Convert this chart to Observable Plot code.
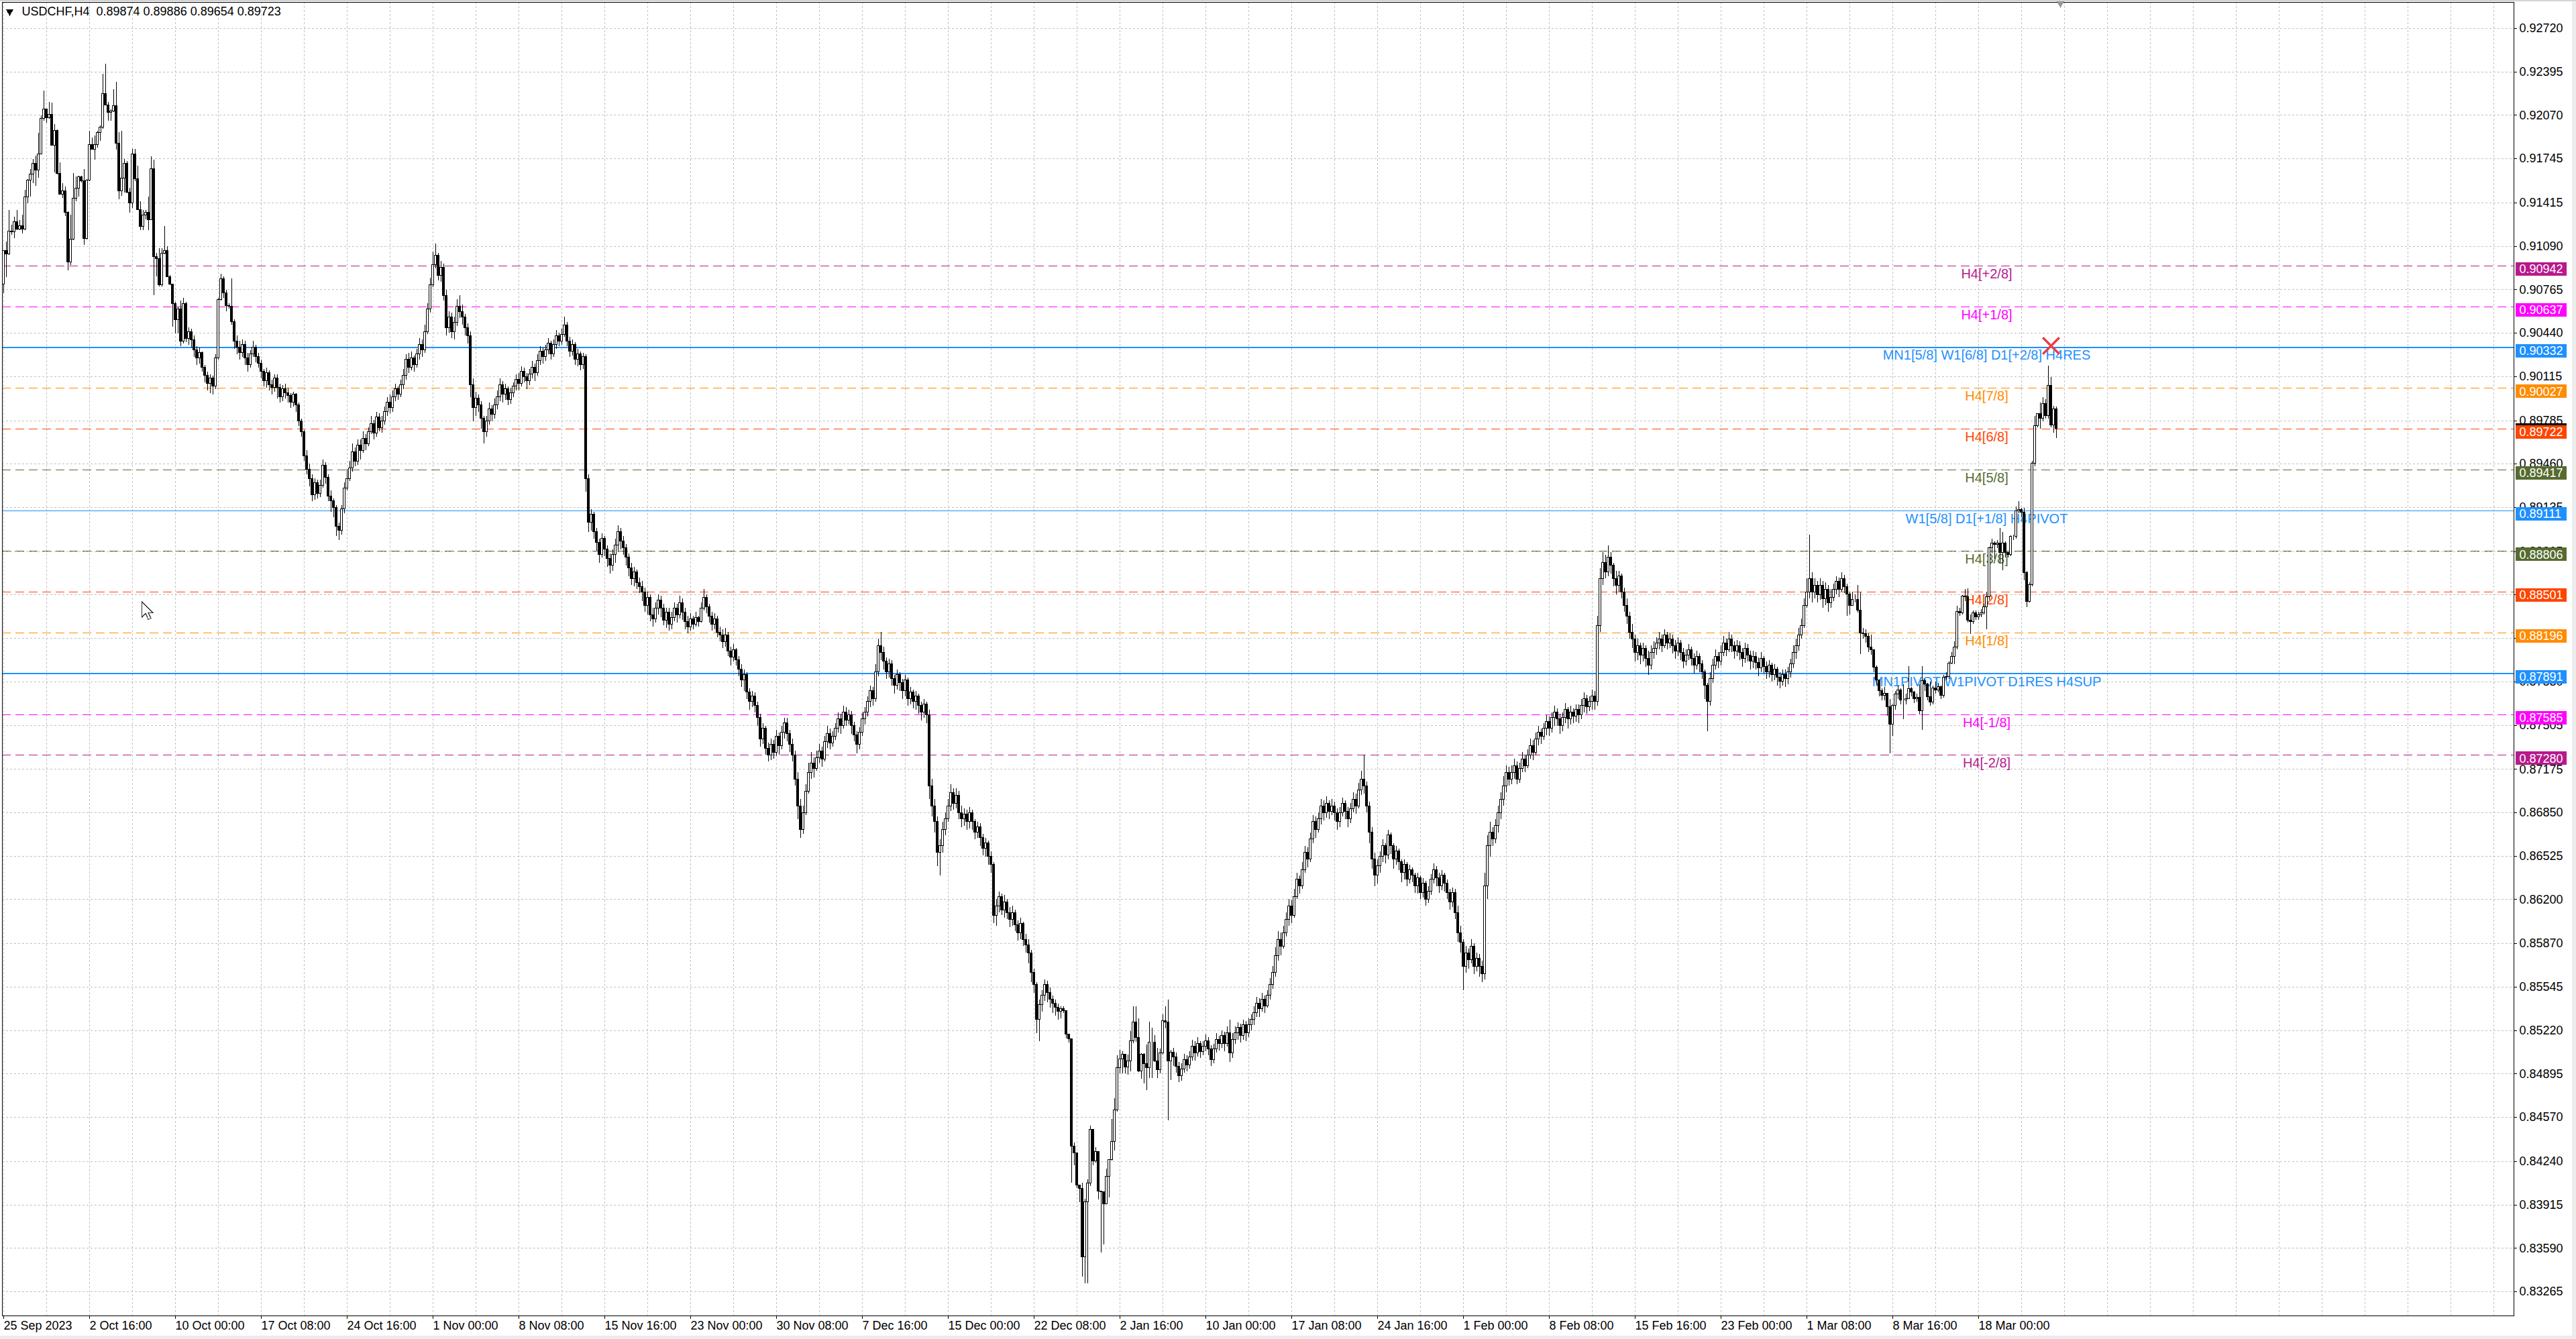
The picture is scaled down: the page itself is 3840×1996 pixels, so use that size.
<!DOCTYPE html>
<html><head><meta charset="utf-8">
<script src="https://cdn.jsdelivr.net/npm/d3@7"></script>
<script src="https://cdn.jsdelivr.net/npm/@observablehq/plot@0.6"></script>
<style>
html,body{margin:0;padding:0;background:#fff;}
#chart{position:relative;width:3840px;height:1996px;overflow:hidden;}
#chart::after{content:"";position:absolute;left:0;top:0;right:0;bottom:0;pointer-events:none;box-shadow:inset 0 2px 0 #d4d4d4, inset -6px 0 0 #ececec, inset 0 -5px 0 #ececec;}
</style></head><body><div id="chart"></div>
<script>
const symbolTitle = "USDCHF,H4  0.89874 0.89886 0.89654 0.89723";
const timeLabels = ["25 Sep 2023","2 Oct 16:00","10 Oct 00:00","17 Oct 08:00","24 Oct 16:00","1 Nov 00:00","8 Nov 08:00","15 Nov 16:00","23 Nov 00:00","30 Nov 08:00","7 Dec 16:00","15 Dec 00:00","22 Dec 08:00","2 Jan 16:00","10 Jan 00:00","17 Jan 08:00","24 Jan 16:00","1 Feb 00:00","8 Feb 08:00","15 Feb 16:00","23 Feb 00:00","1 Mar 08:00","8 Mar 16:00","18 Mar 00:00"];
const priceTicks = [0.92720,0.92395,0.92070,0.91745,0.91415,0.91090,0.90765,0.90440,0.90115,0.89785,0.89460,0.89135,0.88805,0.88480,0.88155,0.87830,0.87505,0.87175,0.86850,0.86525,0.86200,0.85870,0.85545,0.85220,0.84895,0.84570,0.84240,0.83915,0.83590,0.83265];

// H4 bars (25 Sep 2023 08:00 .. 22 Mar 2024 20:00), prices in 1e-5 units
const firstOpen = 90805;
const closes = [
91056,91031,91202,91195,91269,91215,91240,91215,91458,91583,91629,91709,91659,91779,92044,92116,92049,92077,91846,91955,91634,91478,91503,91341,90972,91140,91449,91520,91608,91578,91148,91583,91851,91813,91851,91940,91977,92228,92147,92090,92102,92141,91860,91500,91600,91709,91491,91411,91779,91592,91362,91237,91321,91344,91287,91670,91009,90994,90797,91034,91053,90860,90805,90659,90537,90621,
90380,90660,90400,90450,90390,90310,90250,90290,90180,90120,90060,90100,90040,90250,90688,90847,90738,90646,90637,90521,90380,90330,
90290,90350,90250,90200,90280,90330,90260,90210,90150,90080,90140,90050,90030,90100,90030,89960,90020,89990,89970,89920,89980,89900,89780,89700,89520,89420,89350,89230,89320,89240,
89300,89450,89360,89220,89180,89130,88990,88960,89120,89280,89350,89430,89550,89480,89600,89560,89650,89610,89700,89760,89690,89810,89730,89780,89850,89920,89880,89960,90020,89980,
90050,90120,90240,90180,90250,90200,90280,90350,90310,90450,90620,90800,90950,91020,90870,90930,90720,90480,90560,90450,90520,90640,90600,90560,90480,90420,90050,89880,89950,89900,
89800,89700,89780,89870,89830,89900,89960,90050,89980,90020,89940,89990,90040,90090,90060,90150,90110,90080,90130,90180,90140,90230,90300,90260,90310,90360,90280,90350,90420,90380,
90430,90500,90380,90300,90350,90240,90280,90200,90260,89350,89020,89080,88950,88870,88780,88900,88820,88750,88700,88780,88850,88950,88880,88830,88760,88680,88600,88650,88570,88540,
88500,88400,88460,88330,88300,88380,88440,88380,88290,88350,88260,88310,88380,88330,88420,88350,88280,88240,88300,88260,88310,88280,88380,88460,88390,88320,88260,88300,88200,88180,
88130,88180,88060,88010,88070,87990,87920,87840,87880,87750,87680,87720,87650,87560,87400,87480,87330,87280,87360,87300,87420,87350,87450,87520,87440,87360,87280,87100,86900,86720,
86850,87010,87150,87220,87180,87260,87310,87250,87380,87440,87370,87420,87480,87550,87500,87600,87540,87580,87500,87430,87360,87450,87550,87600,87680,87760,87700,87900,88100,88050,
87980,87900,87960,87850,87800,87880,87820,87760,87840,87700,87750,87680,87720,87650,87600,87660,87580,87050,86900,86780,86550,86600,86720,86800,86900,87000,86920,86980,86850,86800,
86840,86780,86850,86780,86700,86740,86660,86580,86620,86520,86460,86080,86150,86220,86120,86180,86100,86050,86100,86010,85950,86020,85900,85860,85800,85650,85560,85300,85410,85480,
85560,85500,85450,85420,85390,85360,85380,85366,85190,85156,84353,84303,84060,84035,83524,83935,84077,84478,84244,84311,84018,84010,83918,84127,
84252,84386,84621,84939,85006,85039,84947,84989,85140,85282,85165,84914,85039,84972,84939,85131,85131,84989,84922,85048,85290,85282,84989,85056,
85020,84950,84880,84930,85000,84960,85020,85100,85050,85120,85060,85100,85140,85080,85000,85080,85150,85120,85180,85120,85200,85050,85150,85200,85240,85180,85260,85200,85260,85300,
85350,85420,85380,85450,85400,85480,85560,85650,85780,85900,85850,85950,86050,86150,86080,86220,86350,86300,86420,86550,86500,86650,86780,86720,86800,86900,86850,86920,86860,86900,
86850,86780,86850,86920,86860,86800,86880,86950,86900,87020,87100,87050,86900,86700,86500,86380,86450,86520,86600,86530,86680,86600,86500,86560,86480,86400,86460,86350,86420,86380,
86300,86360,86250,86320,86200,86260,86350,86420,86360,86300,86380,86320,86250,86180,86250,86100,85950,85880,85700,85800,85750,85850,85700,85760,85700,85640,86300,86600,86700,86650,
86750,86850,86950,87050,87150,87100,87150,87200,87100,87180,87250,87200,87280,87350,87300,87400,87450,87420,87480,87530,87480,87560,87600,87550,87500,87560,87620,87550,87600,87570,
87620,87580,87650,87700,87640,87680,87720,87680,88250,88600,88720,88650,88760,88700,88600,88550,88620,88500,88400,88320,88200,88150,88050,88100,88030,88080,88000,87950,88050,88080,
88120,88150,88100,88180,88120,88150,88100,88060,88120,88050,87980,88030,88070,88000,87950,88020,87960,87900,87800,87680,87850,87950,88020,87980,88050,88120,88070,88150,88100,88060,
88100,88050,88000,88080,88030,87980,88020,87970,87930,88000,87940,87900,87950,87880,87920,87860,87830,87880,87850,87900,87960,88050,88100,88180,88250,88400,88500,88600,88500,88550,
88480,88550,88450,88520,88420,88460,88520,88580,88520,88600,88540,88487,88400,88446,88446,88362,88195,88186,88170,88086,88069,87935,87843,87759,87726,87740,87642,87508,87651,87734,
87768,87692,87692,87700,87776,87751,87701,87710,87609,87835,87810,87717,87676,87784,87768,87793,87726,87860,87868,87969,88019,88086,88354,88342,88471,88462,88287,88278,88345,88312,
88329,88345,88387,88462,88831,88864,88856,88864,88797,88864,88797,88780,88914,88914,89107,89115,89099,88646,88429,88554,89466,89743,89835,89800,89910,89818,90044,89751,89868,89723];
const highs = [
91056,91123,91357,91249,91307,91357,91282,91324,91508,91592,91667,91742,91767,91935,92069,92253,92111,92169,92161,92002,91960,91717,91558,91533,91349,91324,91634,91608,91617,91617,91667,91592,91952,91901,91918,91952,91993,92378,92454,92169,92111,92261,92320,91943,91952,91742,91726,91525,91818,91818,91692,91424,91357,91357,91458,91759,91734,91039,91073,91073,91240,91090,90872,90805,90671,90638,
90680,90700,90670,90480,90470,90420,90340,90330,90300,90200,90150,90130,90120,90280,90700,90880,90860,90760,90660,90847,90540,90420,
90380,90390,90380,90290,90310,90380,90350,90290,90240,90170,90180,90160,90090,90130,90130,90060,90050,90060,90030,89990,90000,89990,89920,89800,89710,89560,89460,89380,89350,89340,
89340,89490,89470,89380,89260,89200,89150,89020,89150,89320,89420,89480,89610,89580,89640,89640,89700,89680,89730,89820,89790,89850,89840,89820,89890,89960,89980,90010,90060,90040,
90090,90170,90280,90290,90300,90270,90320,90400,90390,90500,90660,90850,91050,91110,91040,90980,90960,90760,90600,90590,90560,90690,90720,90650,90580,90510,90450,90100,90000,89980,
89930,89820,89820,89920,89900,89950,90010,90100,90080,90060,90040,90030,90070,90130,90140,90190,90180,90140,90170,90230,90210,90280,90340,90330,90350,90400,90380,90390,90460,90440,
90470,90560,90520,90410,90390,90370,90320,90300,90290,90280,89380,89120,89100,88980,88900,88940,88920,88850,88790,88820,88900,89000,88980,88920,88860,88790,88720,88690,88670,88610,
88580,88530,88500,88480,88380,88420,88480,88470,88410,88380,88380,88350,88420,88410,88470,88450,88380,88320,88340,88320,88350,88320,88420,88520,88480,88410,88350,88340,88320,88240,
88220,88230,88200,88090,88110,88080,88020,87960,87920,87900,87780,87760,87750,87680,87590,87520,87500,87370,87400,87390,87470,87450,87500,87560,87560,87470,87400,87310,87150,86950,
86900,87060,87220,87300,87260,87310,87360,87340,87420,87500,87480,87460,87520,87600,87590,87650,87640,87620,87610,87530,87460,87490,87600,87640,87720,87800,87790,87960,88150,88200,
88090,88010,88000,87990,87880,87920,87900,87850,87880,87860,87790,87770,87760,87740,87680,87700,87680,87620,87100,86950,86820,86650,86780,86850,86950,87060,87030,87030,87010,86900,
86880,86870,86890,86870,86800,86780,86770,86690,86660,86640,86560,86480,86200,86260,86240,86230,86200,86140,86150,86120,86040,86060,86030,85940,85900,85820,85680,85580,85450,85520,
85600,85590,85540,85480,85450,85420,85400,85400,85370,85190,85160,84380,84280,84060,84077,83960,84102,84504,84462,84345,84311,84018,84010,84186,
84252,84554,84713,85031,85073,85064,85031,85039,85215,85399,85399,85307,85048,85048,85115,85282,85240,85181,85089,85081,85340,85399,85450,85073,
85090,85050,84980,84970,85040,85030,85060,85150,85140,85170,85140,85140,85190,85170,85110,85120,85200,85180,85220,85210,85250,85300,85200,85250,85280,85270,85300,85290,85310,85340,
85400,85470,85460,85500,85480,85520,85610,85700,85840,85960,85950,86000,86100,86200,86190,86280,86400,86380,86480,86600,86590,86700,86830,86820,86850,86950,86940,86970,86940,86950,
86930,86880,86890,86960,86940,86890,86920,87000,86990,87070,87160,87280,87080,86930,86740,86550,86500,86560,86650,86620,86720,86700,86620,86600,86580,86500,86500,86480,86460,86440,
86400,86400,86380,86360,86340,86300,86390,86470,86450,86400,86420,86400,86350,86280,86290,86280,86150,86000,85900,85850,85830,85900,85870,85800,85790,85740,86400,86680,86780,86740,
86800,86900,87000,87120,87200,87190,87200,87250,87230,87220,87300,87280,87320,87400,87390,87450,87500,87480,87520,87580,87570,87600,87650,87630,87590,87600,87670,87640,87650,87630,
87660,87660,87700,87750,87730,87720,87770,87760,88320,88680,88800,88780,88850,88800,88720,88660,88660,88640,88530,88450,88350,88260,88180,88150,88120,88120,88100,88060,88100,88130,
88160,88200,88180,88220,88200,88190,88180,88140,88160,88140,88080,88070,88110,88090,88040,88060,88040,87990,87920,87820,87900,88000,88070,88050,88100,88170,88150,88200,88180,88130,
88140,88130,88080,88120,88110,88060,88060,88050,88010,88050,88020,87980,87990,87970,87960,87940,87900,87920,87920,87940,88000,88100,88150,88230,88300,88450,88600,88930,88650,88600,
88580,88600,88580,88570,88550,88520,88560,88620,88610,88650,88630,88560,88500,88500,88480,88554,88496,88230,88220,88190,88180,88040,87950,87830,87780,87790,87740,87701,87660,87760,
87800,87780,87810,87740,87944,87790,87760,87740,87810,87944,87850,87820,87830,87800,87830,87820,87800,87880,87900,87980,88050,88128,88395,88380,88479,88521,88529,88330,88360,88360,
88350,88370,88410,88500,88839,88900,88880,88890,88981,88948,88880,88800,88922,88930,89140,89182,89130,89130,88660,88570,89483,89818,89840,89920,89960,89944,90195,90111,89893,89886];
const lows = [
90738,90855,91023,91173,91148,91207,91207,91182,91207,91408,91458,91558,91542,91600,91776,92027,92010,92044,91843,91642,91625,91475,91449,91316,90905,90947,91131,91424,91458,91567,91098,91140,91575,91809,91734,91826,91876,91968,92144,92027,92027,92094,91809,91441,91466,91491,91483,91341,91374,91575,91357,91207,91207,91290,91207,91282,90721,90864,90788,90788,91028,90855,90797,90487,90437,90437,
90340,90360,90370,90350,90330,90260,90200,90210,90150,90070,90010,89990,89980,90020,90240,90680,90700,90600,90620,90500,90320,90280,
90240,90260,90200,90150,90180,90260,90220,90180,90100,90040,90030,90010,89980,90000,89950,89920,89930,89950,89920,89880,89890,89850,89740,89660,89480,89380,89290,89180,89190,89200,
89210,89280,89310,89180,89100,89060,88920,88890,88930,89090,89260,89330,89400,89440,89450,89490,89540,89560,89590,89680,89640,89660,89700,89690,89750,89820,89840,89850,89930,89940,
89960,90020,90090,90140,90160,90150,90180,90240,90260,90290,90430,90590,90780,90920,90830,90820,90680,90420,90440,90400,90390,90490,90550,90500,90420,90360,89960,89780,89820,89850,
89720,89610,89660,89750,89780,89800,89870,89930,89920,89940,89900,89910,89960,90010,90010,90040,90070,90020,90050,90100,90080,90120,90200,90210,90230,90280,90240,90260,90320,90340,
90350,90410,90340,90260,90270,90200,90190,90160,90170,89250,88950,88960,88900,88810,88720,88760,88770,88690,88640,88660,88720,88800,88820,88780,88700,88620,88550,88540,88520,88490,
88430,88350,88330,88280,88240,88270,88330,88310,88250,88230,88210,88220,88280,88270,88300,88290,88220,88190,88210,88220,88240,88240,88270,88360,88340,88270,88210,88220,88160,88130,
88080,88090,88020,87950,87980,87950,87870,87790,87760,87700,87620,87640,87600,87500,87340,87360,87280,87230,87240,87250,87270,87280,87320,87400,87380,87300,87230,87050,86800,86660,
86690,86830,86990,87100,87110,87160,87220,87190,87230,87330,87320,87340,87390,87450,87440,87480,87500,87510,87440,87380,87290,87320,87420,87510,87570,87640,87650,87680,87870,87990,
87920,87850,87860,87800,87740,87770,87760,87700,87720,87650,87660,87630,87620,87590,87540,87560,87520,86950,86820,86700,86450,86380,86550,86680,86780,86860,86870,86880,86800,86740,
86750,86720,86730,86720,86650,86660,86600,86530,86520,86460,86400,86020,86000,86100,86080,86060,86050,85990,86000,85960,85890,85900,85850,85800,85720,85580,85500,85200,85140,85360,
85440,85430,85390,85350,85330,85300,85310,85350,85160,85130,84077,84210,84040,83935,83374,83323,83323,84052,84210,84227,83951,83558,83616,83918,
83968,84244,84319,84612,84897,84897,84897,84889,84914,85123,85131,84905,84855,84822,84771,84863,84863,84981,84863,84897,85039,85232,84545,84847,
84950,84900,84830,84840,84900,84910,84930,84990,84990,85020,85010,85030,85060,85030,84950,84970,85050,85070,85090,85060,85100,84980,85010,85120,85150,85130,85150,85140,85170,85220,
85260,85320,85320,85360,85350,85390,85450,85530,85620,85740,85780,85830,85920,86000,86020,86060,86200,86240,86280,86400,86440,86480,86620,86660,86700,86760,86790,86810,86800,86830,
86790,86720,86740,86820,86800,86740,86770,86850,86840,86880,86980,86990,86850,86620,86430,86300,86320,86400,86480,86470,86500,86540,86430,86460,86420,86330,86350,86300,86320,86330,
86250,86240,86200,86210,86150,86170,86230,86320,86300,86250,86270,86260,86200,86120,86140,86050,85880,85800,85520,85650,85680,85720,85640,85660,85620,85580,85600,86200,86520,86600,
86620,86700,86800,86900,87000,87050,87060,87100,87060,87070,87150,87150,87180,87250,87240,87280,87350,87360,87390,87430,87420,87450,87500,87500,87440,87460,87520,87480,87510,87520,
87530,87520,87550,87600,87590,87610,87620,87620,87650,88200,88550,88600,88620,88640,88540,88480,88500,88450,88350,88260,88150,88080,87980,87990,87960,87980,87940,87880,87920,88000,
88030,88070,88050,88080,88070,88080,88040,88000,88020,87990,87930,87950,87990,87950,87890,87920,87900,87850,87700,87460,87650,87820,87920,87930,87950,88020,88020,88050,88050,88000,
88020,87990,87940,87970,87980,87920,87930,87920,87870,87900,87890,87850,87860,87830,87840,87800,87780,87800,87790,87810,87860,87930,88000,88060,88150,88230,88380,88450,88420,88450,
88420,88440,88380,88400,88350,88380,88430,88480,88460,88500,88490,88320,88330,88400,88420,88345,88036,88150,88120,88050,88030,87900,87800,87720,87690,87690,87575,87291,87425,87620,
87700,87660,87550,87660,87710,87720,87670,87680,87584,87466,87760,87690,87650,87660,87740,87750,87700,87710,87840,87850,87960,87960,88070,88320,88330,88430,88270,88186,88260,88290,
88290,88310,88330,88220,88440,88790,88747,88830,88713,88663,88760,88760,88770,88890,88900,89090,89060,88588,88387,88420,88540,89440,89730,89720,89780,89800,89800,89734,89693,89654];

const levelPrices = [0.90942,0.90637,0.90332,0.90027,0.89722,0.89417,0.89111,0.88806,0.88501,0.88196,0.87891,0.87585,0.87280];
const levelNames = ["H4[+2/8]","H4[+1/8]","MN1[5/8] W1[6/8] D1[+2/8] H4RES","H4[7/8]","H4[6/8]","H4[5/8]","W1[5/8] D1[+1/8] H4PIVOT","H4[3/8]","H4[2/8]","H4[1/8]","MN1PIVOT W1PIVOT D1RES H4SUP","H4[-1/8]","H4[-2/8]"];
const levelColors = ["#B8198C","#FF00FF","#1E90FF","#FF8C00","#FF4500","#556B2F","#1E90FF","#556B2F","#FF4500","#FF8C00","#1E90FF","#FF00FF","#B8198C"];
const levelSolid = [false,false,true,false,false,false,true,false,false,false,true,false,false];
const levelWidths = [1,1,2,1,1,1,1,1,1,1,2,1,1];
const lastPrice = 0.89723;
const signals = [{bar: 763, price: 0.90345}];
const shiftMarkerBar = 766.5;
const mousePointer = [{bar: 51.4, price: 0.88432}];

const candles = closes.map((c, i) => {
  const o = i === 0 ? firstOpen : closes[i - 1];
  return {i, open: o / 1e5, close: c / 1e5,
    high: Math.max(highs[i], o, c) / 1e5, low: Math.min(lows[i], o, c) / 1e5};
});
const bulls = candles.filter(d => d.close >= d.open);
const bears = candles.filter(d => d.close < d.open);
const levels = levelPrices.map((p, k) => ({price: p, name: levelNames[k], color: levelColors[k], solid: levelSolid[k], width: levelWidths[k]}));

const arrowSymbol = {draw(ctx) {
  ctx.moveTo(0, 0); ctx.lineTo(0, 24); ctx.lineTo(6, 18); ctx.lineTo(10, 27);
  ctx.lineTo(14, 25); ctx.lineTo(10, 17); ctx.lineTo(17, 17); ctx.closePath();
}};

const font = "Tahoma, 'Liberation Sans', Arial, sans-serif";
const xTicks = timeLabels.map((_, k) => k * 32);
const xGrid = d3.range(0, 936, 16);
const half = 0.3;

const plot = Plot.plot({
  width: 3840, height: 1996,
  marginLeft: 3, marginRight: 93, marginTop: 3, marginBottom: 35,
  x: {type: "linear", domain: [-0.5, 935.5], axis: null},
  y: {type: "linear", domain: [0.830841, 0.929158], axis: null},
  style: {fontFamily: font, fontSize: "18px", background: "#fff", overflow: "visible", shapeRendering: "crispEdges"},
  marks: [
    Plot.ruleX(xGrid, {x: d => d, stroke: "#c0c0c0", strokeDasharray: "3,3", strokeWidth: 1}),
    Plot.ruleY(priceTicks, {y: d => d, stroke: "#c0c0c0", strokeDasharray: "3,3", strokeWidth: 1}),
    Plot.ruleY(levels.filter(d => !d.solid), {y: "price", stroke: "color", strokeWidth: 1, strokeDasharray: "13,7"}),
    Plot.ruleY(levels.filter(d => d.solid), {y: "price", stroke: "color", strokeWidth: "width"}),
    Plot.text(levels, {x: 739, y: "price", text: "name", fill: "color", dy: 12, fontSize: 20, fontFamily: "'Liberation Sans', Arial, sans-serif", textAnchor: "middle"}),
    Plot.ruleX(candles, {x: "i", y1: "low", y2: "high", stroke: "#000", strokeWidth: 1}),
    Plot.rect(bulls, {x1: d => d.i - half, x2: d => d.i + half, y1: "open", y2: "close", fill: "#fff", stroke: "#000", strokeWidth: 1}),
    Plot.rect(bears, {x1: d => d.i - half, x2: d => d.i + half, y1: "open", y2: "close", fill: "#000", stroke: "#000", strokeWidth: 1}),
    Plot.dot(signals, {x: "bar", y: "price", symbol: "times", r: 11, stroke: "#E8434A", strokeWidth: 4, shapeRendering: "auto"}),
    Plot.dot(mousePointer, {x: "bar", y: "price", symbol: arrowSymbol, r: 10, fill: "#fff", stroke: "#333", strokeWidth: 1.2, shapeRendering: "auto"}),
    Plot.frame({stroke: "#000", strokeWidth: 1}),
    Plot.axisX(xTicks, {anchor: "bottom", tickFormat: d => timeLabels[d / 32], textAnchor: "start", tickSize: 5, tickPadding: 3, fontSize: 18, label: null, fontFamily: font}),
    Plot.axisY(priceTicks, {anchor: "right", tickFormat: d => d.toFixed(5), tickSize: 4, tickPadding: 4, fontSize: 18, label: null, fontFamily: font}),
    Plot.rect([lastPrice], {x1: 936.25, x2: 955.25, y1: d => d, y2: d => d, insetTop: -8, insetBottom: -15, fill: "#000"}),
    Plot.rect(levels, {x1: 936.25, x2: 955.25, y1: "price", y2: "price", insetTop: -5, insetBottom: -15, fill: "color"}),
    Plot.text(levels, {x: 937.5, y: "price", text: d => d.price.toFixed(5), fill: "#fff", dy: 5, textAnchor: "start", fontSize: 18, fontFamily: font}),
    Plot.text([symbolTitle], {frameAnchor: "top-left", dx: 29, dy: 7, textAnchor: "start", lineAnchor: "top", fontSize: 18, fill: "#000", fontFamily: font}),
    Plot.dot([0], {frameAnchor: "top-left", dx: 11, dy: 14, symbol: "triangle", rotate: 180, r: 4, fill: "#000", stroke: null}),
    Plot.dot([shiftMarkerBar], {x: d => d, frameAnchor: "top", symbol: "triangle", rotate: 180, r: 4, fill: "#999", stroke: null, dy: 2})
  ]
});
document.getElementById("chart").appendChild(plot);
</script></body></html>
